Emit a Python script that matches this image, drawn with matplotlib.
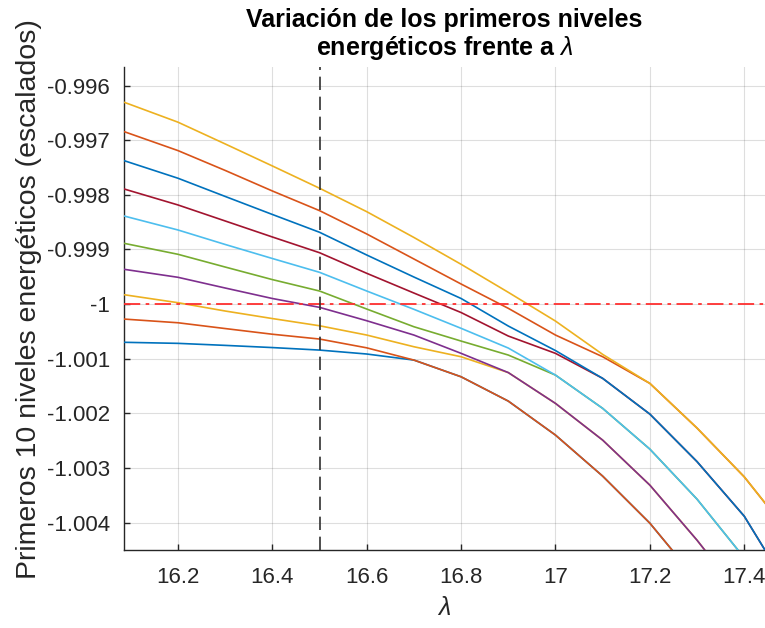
import matplotlib
matplotlib.use("Agg")
import matplotlib.pyplot as plt
from matplotlib.ticker import FuncFormatter

plt.rcParams['font.family'] = ['Liberation Sans', 'DejaVu Sans']
plt.rcParams['axes.unicode_minus'] = False
plt.rcParams['mathtext.fontset'] = 'custom'
plt.rcParams['mathtext.it'] = 'Liberation Sans:italic'

# Coupling parameter lambda
lam = [16.0, 16.1, 16.2, 16.3, 16.4, 16.5, 16.6, 16.7, 16.8, 16.9,
       17.0, 17.1, 17.2, 17.3, 17.4, 17.5]

# First ten scaled energy levels (lowest first)
E1 = [-1.000685, -1.000701, -1.000718, -1.000755, -1.000795, -1.000841, -1.000913, -1.001024,
      -1.001330, -1.001775, -1.002397, -1.003148, -1.004009, -1.005053, -1.006150, -1.007340]
E2 = [-1.000223, -1.000282, -1.000341, -1.000447, -1.000551, -1.000639, -1.000800, -1.001024,
      -1.001330, -1.001775, -1.002397, -1.003148, -1.004009, -1.005053, -1.006150, -1.007340]
E3 = [-0.999718, -0.999846, -0.999974, -1.000126, -1.000264, -1.000396, -1.000566, -1.000780,
      -1.000963, -1.001253, -1.001817, -1.002489, -1.003313, -1.004321, -1.005419, -1.006610]
E4 = [-0.999253, -0.999381, -0.999509, -0.999705, -0.999897, -1.000059, -1.000304, -1.000566,
      -1.000901, -1.001253, -1.001817, -1.002489, -1.003313, -1.004321, -1.005419, -1.006610]
E5 = [-0.998736, -0.998912, -0.999088, -0.999321, -0.999551, -0.999760, -1.000090, -1.000414,
      -1.000676, -1.000932, -1.001299, -1.001908, -1.002654, -1.003570, -1.004643, -1.005786]
E6 = [-0.998194, -0.998419, -0.998643, -0.998908, -0.999165, -0.999418, -0.999760, -1.000095,
      -1.000443, -1.000804, -1.001299, -1.001908, -1.002654, -1.003570, -1.004643, -1.005786]
E7 = [-0.997672, -0.997929, -0.998185, -0.998478, -0.998771, -0.999059, -0.999436, -0.999797,
      -1.000154, -1.000584, -1.000901, -1.001359, -1.002013, -1.002883, -1.003881, -1.005291]
E8 = [-0.997132, -0.997414, -0.997696, -0.998029, -0.998359, -0.998685, -0.999101, -0.999504,
      -0.999897, -1.000401, -1.000850, -1.001359, -1.002013, -1.002883, -1.003881, -1.005291]
E9 = [-0.996582, -0.996886, -0.997190, -0.997553, -0.997929, -0.998289, -0.998716, -0.999174,
      -0.999632, -1.000077, -1.000566, -1.000963, -1.001451, -1.002269, -1.003161, -1.004247]
E10 = [-0.996038, -0.996350, -0.996670, -0.997068, -0.997471, -0.997879, -0.998308, -0.998780,
       -0.999271, -0.999784, -1.000310, -1.000920, -1.001451, -1.002269, -1.003161, -1.004247]

levels = [E1, E2, E3, E4, E5, E6, E7, E8, E9, E10]

# Reference markers
lam_ref = 16.5
E_ref = -1.0

xticks = [16.2, 16.4, 16.6, 16.8, 17.0, 17.2, 17.4]
yticks = [-0.996, -0.997, -0.998, -0.999, -1.0, -1.001, -1.002, -1.003, -1.004]

colors = ['#0072BD', '#D95319', '#EDB120', '#7E2F8E', '#77AC30',
          '#4DBEEE', '#A2142F']

fig = plt.figure(figsize=(7.65, 6.28), dpi=100)
ax = fig.add_axes([124 / 765, 1 - 550 / 628, 1 - 124 / 765, (550 - 67) / 628])

for i, E in enumerate(levels):
    ax.plot(lam, E, color=colors[i % len(colors)], lw=1.2, zorder=3)

ax.axhline(E_ref, color='#FF3030', lw=1.3, zorder=4, dashes=(9, 3, 2, 3))
ax.axvline(lam_ref, color='#303030', lw=1.2, zorder=4, dashes=(8, 4))

ax.set_xlim(16.0856, 17.444)
ax.set_ylim(-1.0045, -0.99566)
ax.set_xticks(xticks)
ax.set_yticks(yticks)
ax.xaxis.set_major_formatter(FuncFormatter(lambda v, p: '%g' % round(v, 4)))
ax.yaxis.set_major_formatter(FuncFormatter(lambda v, p: '%g' % round(v, 6)))

ax.grid(True, color='#262626', alpha=0.15, lw=0.8)
ax.set_axisbelow(True)
for s in ['top', 'right']:
    ax.spines[s].set_visible(False)
for s in ['left', 'bottom']:
    ax.spines[s].set_color('#262626')
    ax.spines[s].set_linewidth(1.0)

ax.tick_params(direction='in', length=4, width=1.0, colors='#262626',
               labelsize=16, labelcolor='#262626')
ax.tick_params(axis='x', pad=12)
ax.tick_params(axis='y', pad=10)

ax.set_xlabel(r'$\it{\lambda}$', fontsize=18, color='#262626', labelpad=6)
ax.set_ylabel('Primeros 10 niveles energéticos (escalados)', fontsize=20.5,
              color='#262626')
ax.yaxis.set_label_coords(-82 / 641, 0.52)
ax.set_title('Variación de los primeros niveles\nenergéticos frente a $\\lambda$',
             fontsize=18, fontweight='bold', color='black', pad=9, linespacing=1.05)

fig.savefig('out.png', dpi=100)
